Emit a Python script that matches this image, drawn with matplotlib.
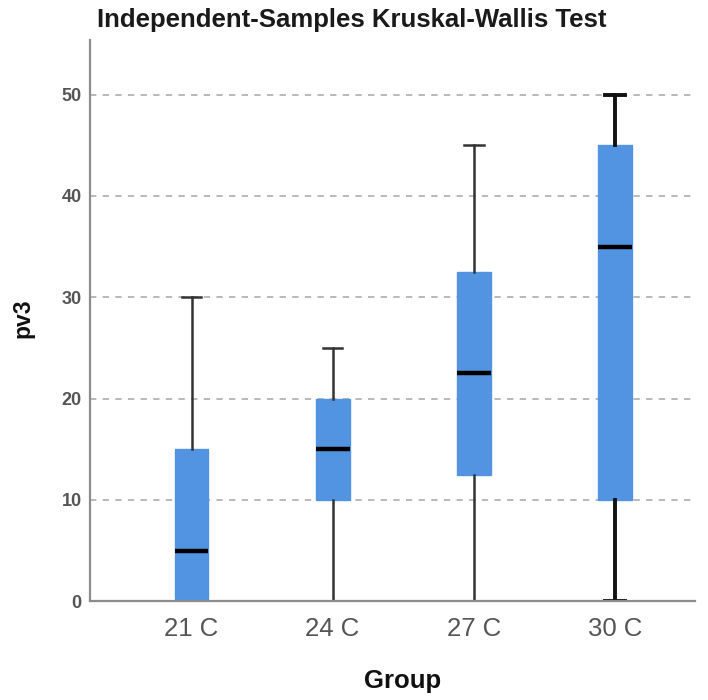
import matplotlib
matplotlib.use("Agg")
import matplotlib.pyplot as plt

plt.rcParams["font.family"] = ["Liberation Sans", "DejaVu Sans"]

# box summary values
groups = ["21 C", "24 C", "27 C", "30 C"]
whisker_low = [0, 0, 0, 0]
q1 = [0, 10, 12.5, 10]
medians = [5, 15, 22.5, 35]
q3 = [15, 20, 32.5, 45]
whisker_high = [30, 25, 45, 50]
yticks = [0, 10, 20, 30, 40, 50]

stats = []
for i in range(len(groups)):
    stats.append({
        "label": groups[i],
        "whislo": whisker_low[i],
        "q1": q1[i],
        "med": medians[i],
        "q3": q3[i],
        "whishi": whisker_high[i],
        "fliers": [],
    })

fig = plt.figure(figsize=(7.08, 7.0), dpi=100)
ax = fig.add_axes([0.127, 0.141, 0.855, 0.802])

bp = ax.bxp(stats, positions=[1, 2, 3, 4], widths=0.24, patch_artist=True,
            showfliers=False,
            boxprops=dict(facecolor="#5294e2", edgecolor="#5294e2", linewidth=1),
            medianprops=dict(color="black", linewidth=3.2),
            whiskerprops=dict(color="#333333", linewidth=1.8),
            capprops=dict(color="#333333", linewidth=1.8),
            capwidths=0.14)
# last group is drawn with heavier whiskers in the original
for line in bp["whiskers"][6:] + bp["caps"][6:]:
    line.set_linewidth(2.8)
    line.set_color("#111111")

ax.set_xlim(0.28, 4.57)
ax.set_ylim(0, 55.4)
ax.set_yticks(yticks)
for y in yticks[1:]:
    ax.axhline(y, color="#b3b3b3", linestyle=(0, (3.5, 3.5)), linewidth=1.3, zorder=0)

ax.spines["top"].set_visible(False)
ax.spines["right"].set_visible(False)
ax.spines["left"].set_color("#8c8c8c")
ax.spines["bottom"].set_color("#8c8c8c")
ax.spines["left"].set_linewidth(1.6)
ax.spines["bottom"].set_linewidth(1.6)
ax.tick_params(axis="y", length=0, labelsize=13, labelcolor="#555555", pad=6)
ax.tick_params(axis="x", length=0, labelsize=18.5, labelcolor="#555555", pad=11)
for lab in ax.get_yticklabels():
    lab.set_fontweight("bold")

ax.set_ylabel("pv3", fontsize=16.5, fontweight="bold", color="#111111")
ax.yaxis.set_label_coords(-0.091, 0.504)
ax.set_xlabel("Group", fontsize=18.5, fontweight="bold", color="#111111", va="baseline")
ax.xaxis.set_label_coords(0.517, -0.155)
fig.text(0.137, 0.961, "Independent-Samples Kruskal-Wallis Test", fontsize=18.5,
         fontweight="bold", color="#1a1a1a", ha="left", va="baseline")

fig.savefig("out.png", dpi=100)
